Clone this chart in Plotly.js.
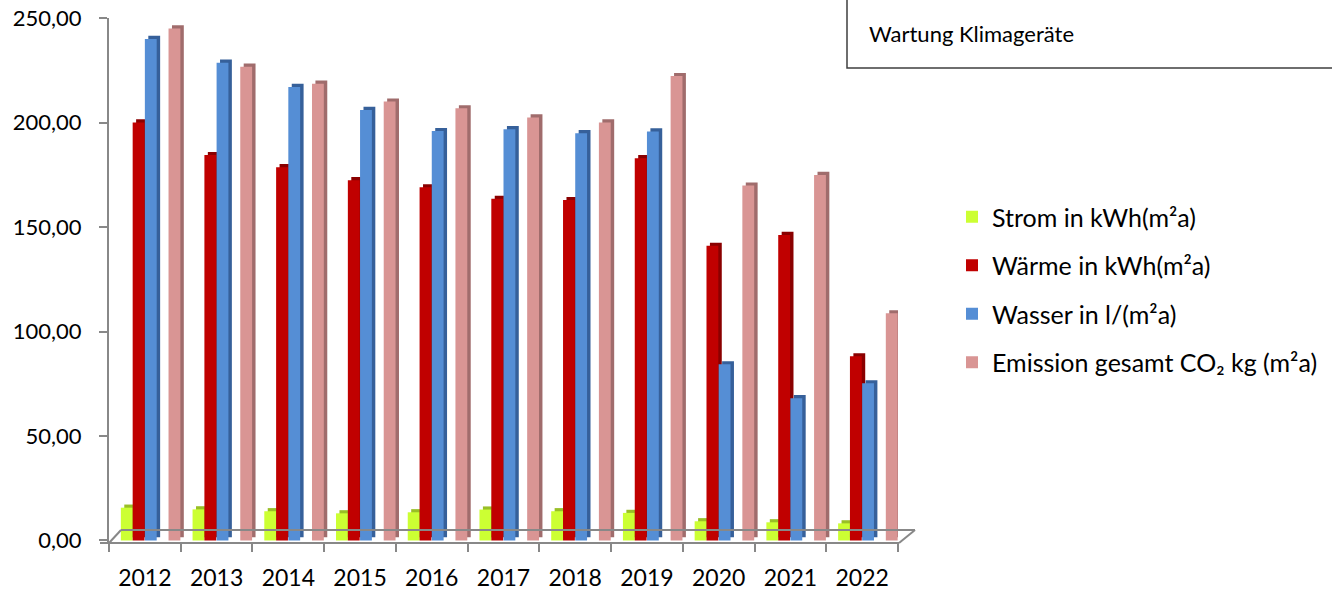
<!DOCTYPE html>
<html>
<head>
<meta charset="utf-8">
<script src="https://cdn.plot.ly/plotly-3.0.1.min.js"></script>
<style>html,body{margin:0;padding:0;background:#fff;}#chart{width:1332px;height:591px;}</style>
</head>
<body>
<div id="chart"></div>
<script>
const years = ['2012','2013','2014','2015','2016','2017','2018','2019','2020','2021','2022'];
const strom = [15.7, 14.9, 14.0, 13.0, 13.5, 14.8, 14.0, 13.2, 9.2, 8.7, 8.2];
const waerme = [200.0, 184.4, 178.6, 172.4, 169.0, 163.5, 162.9, 182.9, 141.0, 146.2, 88.1];
const wasser = [240.0, 228.6, 217.0, 206.0, 195.9, 196.8, 194.9, 195.7, 84.3, 68.1, 75.2];
const emission = [245.0, 226.7, 218.6, 210.0, 206.8, 202.4, 200.0, 222.2, 169.8, 174.9, 108.7];
const seriesNames = ['Strom in kWh(m²a)', 'Wärme in kWh(m²a)', 'Wasser in l/(m²a)', 'Emission gesamt CO₂ kg (m²a)'];
const yTicks = [0, 50, 100, 150, 200, 250];

const FONT = 'Lato, "Open Sans", sans-serif';
const series = [strom, waerme, wasser, emission];
const front = ['#CCFF33', '#C00000', '#558ED5', '#D99594'];
const shade = ['#99BF26', '#8A0000', '#36609A', '#A06C6C'];
const offs = [-0.335, -0.17, 0.0, 0.33];
const W = 0.165;
const depthX = 0.048;

const traces = [];
// depth (side/top) faces first, so front faces cover them
series.forEach((vals, i) => {
  traces.push({
    type: 'bar', x: years, y: vals, base: 1.5,
    offset: offs[i] + depthX, width: W,
    marker: {color: shade[i], line: {width: 0}},
    showlegend: false, hoverinfo: 'skip'
  });
});
series.forEach((vals, i) => {
  traces.push({
    type: 'bar', x: years, y: vals, name: seriesNames[i],
    offset: offs[i], width: W,
    legendgroup: 'g' + i,
    marker: {color: front[i], line: {width: 0}}
  });
});

const px2x = px => (px - 109) / 789;
const py2y = py => (543 - py) / 525;

const layout = {
  width: 1332, height: 591,
  margin: {l: 109, r: 434, t: 18, b: 48, autoexpand: false},
  paper_bgcolor: '#ffffff', plot_bgcolor: 'rgba(0,0,0,0)',
  barmode: 'overlay',
  font: {family: FONT, color: '#000', size: 22},
  showlegend: true,
  legend: {
    x: px2x(952), y: py2y(194), xanchor: 'left', yanchor: 'top',
    font: {family: FONT, size: 25, color: '#000'},
    traceorder: 'grouped', tracegroupgap: 13,
    bgcolor: 'rgba(0,0,0,0)'
  },
  xaxis: {
    type: 'category', range: [-0.5, 10.5], automargin: false,
    showline: false, zeroline: false, showgrid: false,
    ticks: 'outside', tickson: 'boundaries', ticklen: 8, tickwidth: 2, tickcolor: '#888888',
    tickfont: {family: FONT, size: 23, color: '#000'},
    ticklabelstandoff: 19,
    fixedrange: true
  },
  yaxis: {
    range: [-1.2, 250], tickvals: yTicks, tickformat: '.2f', automargin: false,
    showline: true, linecolor: '#888888', linewidth: 2,
    showgrid: false, zeroline: false,
    ticks: 'outside', ticklen: 8, tickwidth: 2, tickcolor: '#888888',
    tickfont: {family: FONT, size: 22, color: '#000'},
    ticklabelstandoff: 13,
    fixedrange: true
  },
  separators: ',.',
  shapes: [
    // floor: front edge, back edge, side edges
    {type: 'line', xref: 'paper', yref: 'paper', x0: px2x(100), x1: px2x(899), y0: py2y(543), y1: py2y(543), line: {color: '#888888', width: 2}},
    {type: 'line', xref: 'paper', yref: 'paper', x0: px2x(121), x1: px2x(915), y0: py2y(530), y1: py2y(530), line: {color: '#888888', width: 2}},
    {type: 'line', xref: 'paper', yref: 'paper', x0: px2x(109), x1: px2x(121), y0: py2y(543), y1: py2y(530), line: {color: '#888888', width: 2}},
    {type: 'line', xref: 'paper', yref: 'paper', x0: px2x(899), x1: px2x(915), y0: py2y(543), y1: py2y(530), line: {color: '#888888', width: 2}},
    // text box
    {type: 'rect', xref: 'paper', yref: 'paper', x0: px2x(847), x1: px2x(1345), y0: py2y(68), y1: py2y(-5), line: {color: '#3f3f3f', width: 1.5}, fillcolor: 'rgba(0,0,0,0)'}
  ],
  annotations: [
    {xref: 'paper', yref: 'paper', x: px2x(867), y: py2y(33), xanchor: 'left', yanchor: 'middle', showarrow: false,
     text: 'Wartung Klimageräte', font: {family: FONT, size: 22, color: '#000'}}
  ]
};

Plotly.newPlot('chart', traces, layout, {displayModeBar: false, staticPlot: true});
</script>
</body>
</html>
